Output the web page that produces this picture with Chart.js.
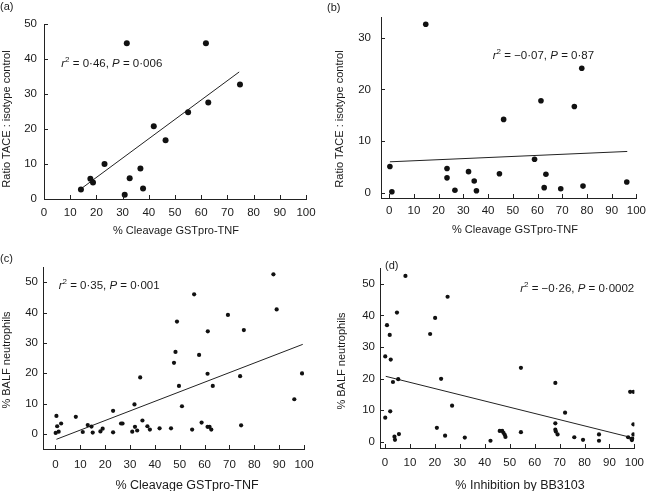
<!DOCTYPE html>
<html>
<head>
<meta charset="utf-8">
<script src="https://cdn.jsdelivr.net/npm/chart.js@4.4.1/dist/chart.umd.min.js"></script>
<style>
  html, body { margin: 0; padding: 0; background: #fff; width: 652px; height: 491px; overflow: hidden; }
  canvas { position: absolute; }
  .tag { position: absolute; font: 11px "Liberation Sans", Arial, sans-serif; color: #1a1a1a; }
</style>
</head>
<body>
<canvas id="pa" width="326" height="245" style="left:0;top:0"></canvas>
<canvas id="pb" width="326" height="245" style="left:326px;top:0"></canvas>
<canvas id="pc" width="326" height="246" style="left:0;top:245px"></canvas>
<canvas id="pd" width="326" height="246" style="left:326px;top:245px"></canvas>
<div class="tag" style="left:0;top:0">(a)</div>
<div class="tag" style="left:327px;top:1px">(b)</div>
<div class="tag" style="left:0;top:252px">(c)</div>
<div class="tag" style="left:385px;top:259px">(d)</div>
<script>
// ---- data ----
const cleavageA = [14.1, 17.7, 18.7, 23.1, 30.8, 31.6, 32.7, 36.8, 37.8, 41.9, 46.4, 55.0, 61.8, 62.7, 74.8];
const ratioA    = [2.7, 5.8, 4.7, 10.0, 1.2, 44.5, 5.9, 8.7, 3.0, 20.8, 16.8, 24.8, 44.5, 27.6, 32.7];
const fitAX = [14.1, 74.5];
const fitAY = [2.9, 36.3];

const cleavageB = [0.3, 1.1, 14.8, 23.4, 23.4, 26.6, 32.1, 34.4, 35.3, 44.6, 46.3, 58.8, 61.4, 62.7, 63.4, 69.4, 74.9, 77.9, 78.4, 96.1];
const ratioB    = [5.1, 0.2, 32.6, 4.7, 2.9, 0.5, 4.1, 2.3, 0.4, 3.7, 14.2, 6.5, 17.8, 1.0, 3.6, 0.8, 16.7, 24.1, 1.3, 2.1];
const fitBX = [0.3, 96.3];
const fitBY = [6.0, 8.0];

const cleavageC = [0.4, 0.7, 0.1, 1.3, 2.3, 8.2, 11.0, 13.0, 14.5, 15.0, 18.1, 19.0, 23.2, 23.2, 26.4, 27.0, 30.9, 31.8, 32.0, 32.9,
                   34.1, 35.0, 37.0, 38.0, 41.9, 46.5, 47.7, 48.3, 48.9, 49.7, 50.9, 55.0, 55.8, 57.8, 58.8, 61.2, 61.3, 61.2, 62.0, 62.7,
                   63.3, 69.4, 74.3, 74.7, 75.8, 87.7, 89.0, 96.1, 99.2];
const neutroC   = [5.9, 2.5, 0.3, 0.7, 3.4, 5.6, 0.6, 2.9, 2.4, 0.4, 0.8, 1.7, 7.6, 0.5, 3.4, 3.4, 0.7, 9.7, 2.3, 1.1,
                   18.6, 4.4, 2.5, 1.4, 1.8, 1.8, 23.4, 27.0, 37.0, 15.8, 9.1, 1.4, 46.0, 26.0, 3.7, 19.8, 33.8, 2.3, 2.3, 1.4,
                   15.8, 39.2, 19.0, 2.8, 34.2, 52.6, 41.0, 11.4, 19.9];
const fitCX = [0.4, 99.5];
const fitCY = [-1.8, 29.5];

const inhibD  = [0.1, 0.1, 0.8, 1.9, 2.1, 2.3, 3.2, 3.8, 4.0, 4.8, 5.3, 5.6, 8.2, 18.1, 20.1, 20.8, 22.5, 24.1, 25.1, 26.9,
                 32.0, 42.3, 46.0, 47.0, 47.5, 48.0, 48.3, 54.5, 54.5, 68.3, 68.3, 68.3, 68.5, 69.2, 72.2, 75.9, 79.4, 85.8, 85.8,
                 97.5, 98.8, 99.0, 99.2, 99.6, 99.6, 98.3, 99.6];
const neutroD = [7.6, 27.0, 36.9, 33.8, 9.6, 26.0, 18.9, 1.6, 0.6, 40.9, 19.8, 2.4, 52.5, 34.1, 39.2, 4.4, 19.9, 1.9, 45.9, 11.4,
                 1.3, 0.3, 3.4, 3.4, 2.8, 2.2, 1.5, 23.4, 3.0, 18.6, 5.8, 3.8, 3.2, 2.3, 9.2, 1.4, 0.6, 2.3, 0.3,
                 1.4, 0.9, 0.5, 1.0, 2.3, 5.5, 15.8, 15.8];
const fitDX = [0.3, 98.3];
const fitDY = [20.7, 1.4];

const xTickVals   = [0, 10, 20, 30, 40, 50, 60, 70, 80, 90, 100];
const yTicksA     = [0, 10, 20, 30, 40, 50];
const yTicksB     = [0, 10, 20, 30];
const yTicksNeutro = [0, 10, 20, 30, 40, 50];

const FONT = '"Liberation Sans", Arial, Helvetica, sans-serif';
const INK = '#1a1a1a';

function pairs(xs, ys) { return xs.map((v, i) => ({ x: v, y: ys[i] })); }

// inward tick marks, axis captions and the r2 / P note
const panelDecor = {
  id: 'panelDecor',
  afterDraw(chart, args, o) {
    const ctx = chart.ctx;
    const xs = chart.scales.x, ys = chart.scales.y;
    ctx.save();
    ctx.strokeStyle = '#222';
    ctx.lineWidth = 1;
    ctx.beginPath();
    xs.ticks.forEach(t => {
      const px = Math.round(xs.getPixelForValue(t.value)) + 0.5;
      ctx.moveTo(px, xs.top);
      ctx.lineTo(px, xs.top - 4);
    });
    ys.ticks.forEach(t => {
      const py = Math.round(ys.getPixelForValue(t.value)) + 0.5;
      ctx.moveTo(ys.right, py);
      ctx.lineTo(ys.right + 4, py);
    });
    ctx.stroke();

    ctx.fillStyle = INK;
    ctx.textAlign = 'center';
    ctx.textBaseline = 'middle';
    ctx.font = o.xFont + 'px ' + FONT;
    ctx.fillText(o.xTitle, o.xTitleAt[0], o.xTitleAt[1]);
    ctx.save();
    ctx.translate(o.yTitleAt[0], o.yTitleAt[1]);
    ctx.rotate(-Math.PI / 2);
    ctx.font = '11px ' + FONT;
    ctx.fillText(o.yTitle, 0, 0);
    ctx.restore();

    // statistics note: italic r, superscript 2, italic P
    let px = xs.getPixelForValue(o.noteAt[0]);
    const py = ys.getPixelForValue(o.noteAt[1]);
    ctx.textAlign = 'left';
    ctx.textBaseline = 'alphabetic';
    const base = py + 4;
    const parts = [
      ['r', 'italic 11.5px ', 0],
      ['2', '8px ', -5],
      [' = ' + o.r2 + ', ', '11.5px ', 0],
      ['P', 'italic 11.5px ', 0],
      [' = ' + o.p, '11.5px ', 0]
    ];
    parts.forEach(([txt, f, dy]) => {
      ctx.font = f + FONT;
      ctx.fillText(txt, px, base + dy);
      px += ctx.measureText(txt).width;
    });
    ctx.restore();
  }
};

function makePanel(id, cfg) {
  const canvas = document.getElementById(id);
  const W = canvas.width, H = canvas.height;
  const box = cfg.box;
  const tickFont = { family: FONT, size: 11.5 };

  return new Chart(canvas.getContext('2d'), {
    type: 'scatter',
    data: {
      datasets: [{
        data: cfg.points,
        backgroundColor: '#111',
        borderColor: '#111',
        borderWidth: 0,
        pointRadius: cfg.dot,
        pointHoverRadius: cfg.dot
      }, {
        data: cfg.fit,
        showLine: true,
        borderColor: '#222',
        borderWidth: 1,
        pointRadius: 0,
        fill: false
      }]
    },
    options: {
      responsive: false,
      animation: false,
      devicePixelRatio: 1,
      layout: { padding: { left: 0, top: box.t, right: W - box.r, bottom: 0 } },
      plugins: {
        legend: { display: false },
        tooltip: { enabled: false },
        panelDecor: cfg.decor
      },
      scales: {
        x: {
          type: 'linear',
          min: cfg.xRange[0],
          max: cfg.xRange[1],
          afterBuildTicks: s => { s.ticks = xTickVals.map(v => ({ value: v })); },
          afterFit: s => { s.height = H - box.b; },
          grid: { display: false, drawTicks: false },
          border: { display: true, color: '#222', width: 1 },
          ticks: { color: INK, font: tickFont, padding: cfg.xPad, autoSkip: false, maxRotation: 0 }
        },
        y: {
          type: 'linear',
          min: cfg.yRange[0],
          max: cfg.yRange[1],
          afterBuildTicks: s => { s.ticks = cfg.yTicks.map(v => ({ value: v })); },
          afterFit: s => { s.width = box.l; },
          grid: { display: false, drawTicks: false },
          border: { display: true, color: '#222', width: 1 },
          ticks: { color: INK, font: tickFont, padding: cfg.yPad, autoSkip: false }
        }
      }
    },
    plugins: [panelDecor]
  });
}

makePanel('pa', {
  points: pairs(cleavageA, ratioA),
  fit: pairs(fitAX, fitAY),
  dot: 3,
  box: { l: 44, t: 24, r: 306, b: 199 },
  xRange: [0, 100], yRange: [0, 50], yTicks: yTicksA,
  xPad: 7, yPad: 7,
  decor: { xTitle: '% Cleavage GSTpro-TNF', xFont: 11, xTitleAt: [176, 231],
           yTitle: 'Ratio TACE : isotype control', yTitleAt: [7, 119],
           noteAt: [6.6, 39], r2: '0·46', p: '0·006' }
});

makePanel('pb', {
  points: pairs(cleavageB, ratioB),
  fit: pairs(fitBX, fitBY),
  dot: 2.8,
  box: { l: 55, t: 17, r: 312, b: 198 },
  xRange: [-3.3, 100], yRange: [-1, 34], yTicks: yTicksB,
  xPad: 6, yPad: 10,
  decor: { xTitle: '% Cleavage GSTpro-TNF', xFont: 11, xTitleAt: [189, 230],
           yTitle: 'Ratio TACE : isotype control', yTitleAt: [14, 119],
           noteAt: [41.9, 26.6], r2: '−0·07', p: '0·87' }
});

makePanel('pc', {
  points: pairs(cleavageC, neutroC),
  fit: pairs(fitCX, fitCY),
  dot: 2.1,
  box: { l: 43, t: 22, r: 304, b: 204 },
  xRange: [-5, 100], yRange: [-5, 55], yTicks: yTicksNeutro,
  xPad: 9, yPad: 5,
  decor: { xTitle: '% Cleavage GSTpro-TNF', xFont: 12.5, xTitleAt: [187, 241],
           yTitle: '% BALF neutrophils', yTitleAt: [7, 115],
           noteAt: [1.3, 49.2], r2: '0·35', p: '0·001' }
});

makePanel('pd', {
  points: pairs(inhibD, neutroD),
  fit: pairs(fitDX, fitDY),
  dot: 2.1,
  box: { l: 54, t: 23, r: 311, b: 203 },
  xRange: [-2, 100], yRange: [-2, 55], yTicks: yTicksNeutro,
  xPad: 8, yPad: 5,
  decor: { xTitle: '% Inhibition by BB3103', xFont: 12.5, xTitleAt: [194, 241],
           yTitle: '% BALF neutrophils', yTitleAt: [16, 116],
           noteAt: [54.2, 48.6], r2: '−0·26', p: '0·0002' }
});
</script>
</body>
</html>
